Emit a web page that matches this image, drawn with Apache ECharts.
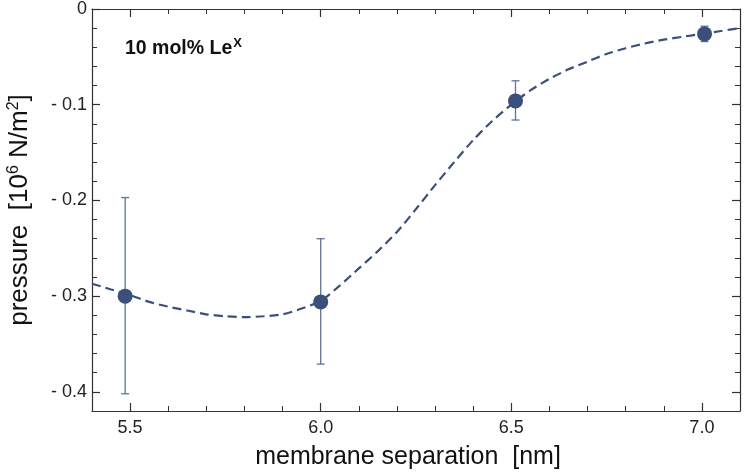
<!DOCTYPE html>
<html>
<head>
<meta charset="utf-8">
<script src="https://cdn.jsdelivr.net/npm/echarts@6/dist/echarts.min.js"></script>
<style>html,body{margin:0;padding:0;background:#fff}#c{width:747px;height:473px}</style>
</head>
<body>
<div id="c"></div>
<script>
// Measured points
const sepX = [5.487, 6.0, 6.511, 7.007];
const pressure = [-0.300, -0.306, -0.096, -0.026];
const errLow = [-0.402, -0.371, -0.116, -0.034];
const errHigh = [-0.197, -0.240, -0.075, -0.018];

// Fitted dashed curve
const fitX = [5.40, 5.45, 5.50, 5.55, 5.60, 5.65, 5.70, 5.75, 5.80, 5.85, 5.90, 5.95, 6.00, 6.05, 6.10, 6.15, 6.20, 6.25, 6.30, 6.35, 6.40, 6.45, 6.50, 6.55, 6.60, 6.65, 6.70, 6.75, 6.80, 6.85, 6.90, 6.95, 7.00, 7.05, 7.10];
const fitY = [-0.287, -0.293, -0.299, -0.306, -0.311, -0.315, -0.319, -0.321, -0.322, -0.321, -0.319, -0.313, -0.305, -0.289, -0.271, -0.253, -0.233, -0.209, -0.184, -0.160, -0.137, -0.117, -0.100, -0.085, -0.073, -0.063, -0.055, -0.047, -0.041, -0.036, -0.032, -0.029, -0.026, -0.023, -0.020];

// Axis ticks
const xMajorTicks = [5.5, 6.0, 6.5, 7.0];
const yMajorTicks = [0, -0.1, -0.2, -0.3, -0.4];

const X_MIN = 5.4, X_MAX = 7.1, Y_MIN = -0.42, Y_MAX = 0;
const FONT = '"Liberation Sans", Arial, sans-serif';
const AX = '#333';
const PT = '#3b5078';
const EB = '#5f7399';

function xAxisDef(pos, major, showLabel) {
  return {
    type: 'value', position: pos, min: X_MIN, max: X_MAX, interval: 0.1,
    axisLine: { show: !major, onZero: false, lineStyle: { color: AX, width: 1.2 } },
    axisTick: major
      ? { show: true, inside: true, length: 8, customValues: xMajorTicks, lineStyle: { color: AX, width: 1.2 } }
      : { show: true, inside: true, length: 5, lineStyle: { color: AX, width: 1 } },
    axisLabel: showLabel
      ? { show: true, customValues: xMajorTicks, margin: 8, fontFamily: FONT, fontSize: 18, color: '#222',
          formatter: v => v.toFixed(1) }
      : { show: false },
    splitLine: { show: false },
    name: showLabel ? 'membrane separation  [nm]' : '',
    nameLocation: 'middle', nameGap: 34,
    nameTextStyle: { fontFamily: FONT, fontSize: 25, color: '#111', padding: [0, 16, 0, 0] }
  };
}
function yAxisDef(pos, major, showLabel) {
  return {
    type: 'value', position: pos, min: Y_MIN, max: Y_MAX, interval: 0.02,
    axisLine: { show: !major, onZero: false, lineStyle: { color: AX, width: 1.2 } },
    axisTick: major
      ? { show: true, inside: true, length: 8, customValues: yMajorTicks, lineStyle: { color: AX, width: 1.2 } }
      : { show: true, inside: true, length: 5, lineStyle: { color: AX, width: 1 } },
    axisLabel: showLabel
      ? { show: true, customValues: yMajorTicks, margin: 5, fontFamily: FONT, fontSize: 18, color: '#222',
          formatter: v => (Math.abs(v) < 1e-9 ? '0' : '- ' + Math.abs(v).toFixed(1)) }
      : { show: false },
    splitLine: { show: false },
    name: showLabel ? '{a|pressure  [10}{s|6}{a| N/m}{s|2}{a|]}' : '',
    nameLocation: 'middle', nameGap: 58, nameRotate: 90,
    nameTextStyle: {
      fontFamily: FONT, fontSize: 26, color: '#111',
      rich: {
        a: { fontFamily: FONT, fontSize: 26, color: '#111' },
        s: { fontFamily: FONT, fontSize: 16, color: '#111', verticalAlign: 'top', padding: [0, 0, 12, 0] }
      }
    }
  };
}

const chart = echarts.init(document.getElementById('c'), null, { renderer: 'canvas' });
chart.setOption({
  animation: false,
  backgroundColor: '#fff',
  grid: { left: 92, right: 7, top: 9, bottom: 62, containLabel: false, outerBoundsMode: 'none' },
  title: {
    text: '{b|10 mol% Le}{s|X}',
    left: 120, top: 32,
    textStyle: {
      rich: {
        b: { fontFamily: FONT, fontSize: 19.5, fontWeight: 'bold', color: '#111' },
        s: { fontFamily: FONT, fontSize: 13, fontWeight: 'bold', color: '#111', verticalAlign: 'top', padding: [0, 0, 10, 1] }
      }
    }
  },
  xAxis: [
    xAxisDef('bottom', false, true),
    xAxisDef('bottom', true, false),
    xAxisDef('top', false, false),
    xAxisDef('top', true, false)
  ],
  yAxis: [
    yAxisDef('left', false, true),
    yAxisDef('left', true, false),
    yAxisDef('right', false, false),
    yAxisDef('right', true, false)
  ],
  series: [
    {
      type: 'line', xAxisIndex: 0, yAxisIndex: 0,
      data: fitX.map((x, i) => [x, fitY[i]]),
      smooth: 0.25, showSymbol: false, symbol: 'none',
      lineStyle: { color: PT, width: 2.2, type: [9, 5] },
      z: 2
    },
    {
      type: 'custom', xAxisIndex: 0, yAxisIndex: 0,
      data: sepX.map((x, i) => [x, errLow[i], errHigh[i]]),
      renderItem: function (params, api) {
        const lo = api.coord([api.value(0), api.value(1)]);
        const hi = api.coord([api.value(0), api.value(2)]);
        const w = 4;
        const style = { stroke: EB, lineWidth: 1.3, fill: null };
        return {
          type: 'group',
          children: [
            { type: 'line', shape: { x1: lo[0], y1: lo[1], x2: hi[0], y2: hi[1] }, style },
            { type: 'line', shape: { x1: lo[0] - w, y1: lo[1], x2: lo[0] + w, y2: lo[1] }, style },
            { type: 'line', shape: { x1: hi[0] - w, y1: hi[1], x2: hi[0] + w, y2: hi[1] }, style }
          ]
        };
      },
      z: 3
    },
    {
      type: 'scatter', xAxisIndex: 0, yAxisIndex: 0,
      data: sepX.map((x, i) => [x, pressure[i]]),
      symbol: 'circle', symbolSize: 15,
      itemStyle: { color: PT, opacity: 1 },
      z: 4
    }
  ]
});
</script>
</body>
</html>
